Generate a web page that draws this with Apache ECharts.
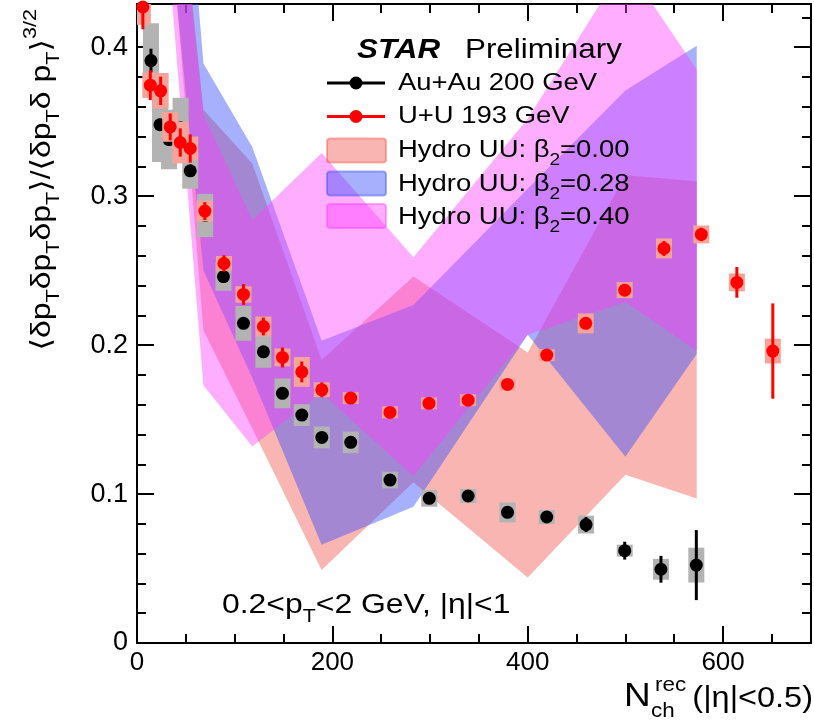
<!DOCTYPE html>
<html><head><meta charset="utf-8">
<script src="https://cdn.jsdelivr.net/npm/echarts@6/dist/echarts.min.js"></script>
<style>html,body{margin:0;padding:0;background:#fff}#c{width:814px;height:724px}</style>
</head><body><div id="c"></div>
<script>
// ---- data ----
const auX = [14.3, 23.5, 32.8, 44.6, 54.5, 69.8, 88.5, 109, 129.4, 148.9, 168.7, 189.2, 218.8, 259, 299.2, 339, 379.3, 419.5, 459.7, 499.3, 536.4, 572.6];
const auY = [0.391, 0.348, 0.338, 0.346, 0.317, 0.287, 0.246, 0.2146, 0.1955, 0.1676, 0.153, 0.138, 0.1347, 0.1094, 0.0971, 0.0987, 0.0877, 0.0846, 0.0795, 0.062, 0.0495, 0.0523];
const auStat = [0.008, 0.004, 0.004, 0.004, 0.004, 0.004, 0.003, 0.003, 0.003, 0.003, 0.003, 0.003, 0.003, 0.003, 0.003, 0.003, 0.003, 0.004, 0.005, 0.006, 0.009, 0.0235];
const auSys = [0.025, 0.025, 0.02, 0.02, 0.012, 0.0145, 0.0095, 0.0117, 0.0107, 0.010, 0.0073, 0.0073, 0.0073, 0.0056, 0.0056, 0.0047, 0.0067, 0.0047, 0.006, 0.004, 0.007, 0.0117];

const uuX = [6, 13.6, 24.2, 34, 44.3, 54.5, 69.5, 89, 109, 129.4, 148.9, 168.7, 189.2, 218.8, 259, 298.9, 339, 379.3, 419.5, 459.4, 499.3, 539.5, 577.7, 614.1, 650.9];
const uuY = [0.427, 0.3745, 0.3707, 0.3465, 0.336, 0.332, 0.290, 0.2548, 0.234, 0.2125, 0.1917, 0.182, 0.170, 0.1644, 0.1548, 0.1609, 0.163, 0.1736, 0.1933, 0.2146, 0.2369, 0.2649, 0.2743, 0.2421, 0.196];
const uuStat = [0.015, 0.01, 0.0095, 0.009, 0.0095, 0.0095, 0.006, 0.0055, 0.007, 0.006, 0.0067, 0.007, 0.005, 0.003, 0.003, 0.003, 0.003, 0.003, 0.003, 0.003, 0.004, 0.005, 0.0045, 0.0103, 0.032];
const uuSys = [0.012, 0.0084, 0.012, 0.01, 0.014, 0.008, 0.007, 0.005, 0.0055, 0.0067, 0.006, 0.01, 0.005, 0.004, 0.004, 0.004, 0.004, 0.004, 0.004, 0.0067, 0.0054, 0.0067, 0.006, 0.006, 0.0083];

const hydroX = [36, 68, 118, 189, 283, 400, 500, 573];
const b000Up = [0.56, 0.358, 0.322, 0.19, 0.246, 0.195, 0.314, 0.31];
const b000Lo = [0.47, 0.21, 0.144, 0.049, 0.108, 0.044, 0.113, 0.097];
const b028Up = [0.645, 0.389, 0.333, 0.203, 0.227, 0.305, 0.371, 0.401];
const b028Lo = [0.462, 0.25, 0.178, 0.066, 0.0915, 0.207, 0.125, 0.194];
const b040Up = [0.552, 0.355, 0.284, 0.329, 0.259, 0.352, 0.456, 0.385];
const b040Lo = [0.43, 0.173, 0.132, 0.168, 0.112, 0.207, 0.229, 0.196];

const xMajor = 200, xMinor = 50, xMax = 690;
const yMajor = 0.1, yMinor = 0.02, yMax = 0.429;

// ---- styles ----
const FONT = '"Liberation Sans", "DejaVu Sans", Arial, sans-serif';
const SX = 1.12;
const C000 = 'rgba(240,70,60,0.40)';
const C028 = 'rgba(60,80,250,0.45)';
const C040 = 'rgba(255,60,255,0.42)';

function band(up, lo, color) {
  return {
    type: 'custom', clip: true, silent: true, z: 1,
    data: hydroX.map((x, i) => [x, up[i], lo[i]]),
    encode: { x: 0, y: [1, 2] },
    renderItem: function (params, api) {
      if (params.dataIndex !== 0) return null;
      const pts = [];
      for (let i = 0; i < hydroX.length; i++) pts.push(api.coord([hydroX[i], up[i]]));
      for (let i = hydroX.length - 1; i >= 0; i--) pts.push(api.coord([hydroX[i], lo[i]]));
      return { type: 'polygon', shape: { points: pts }, style: { fill: color } };
    }
  };
}
function sysBoxes(xs, ys, es, color, z) {
  return {
    type: 'custom', clip: true, silent: true, z: z,
    data: xs.map((x, i) => [x, ys[i], es[i]]),
    encode: { x: 0, y: 1 },
    renderItem: function (params, api) {
      const x = api.value(0), y = api.value(1), e = api.value(2);
      const a = api.coord([x, y + e]), b = api.coord([x, y - e]);
      return { type: 'rect', shape: { x: a[0] - 8, y: a[1], width: 16, height: b[1] - a[1] }, style: { fill: color } };
    }
  };
}
function statBars(xs, ys, es, color, z) {
  return {
    type: 'custom', clip: true, silent: true, z: z,
    data: xs.map((x, i) => [x, ys[i], es[i]]),
    encode: { x: 0, y: 1 },
    renderItem: function (params, api) {
      const x = api.value(0), y = api.value(1), e = api.value(2);
      const a = api.coord([x, y + e]), b = api.coord([x, y - e]);
      return { type: 'line', shape: { x1: a[0], y1: a[1], x2: b[0], y2: b[1] }, style: { stroke: color, lineWidth: 3 } };
    }
  };
}
function points(xs, ys, color, z) {
  return {
    type: 'scatter', symbol: 'circle', symbolSize: 13, silent: true, z: z, clip: false,
    data: xs.map((x, i) => [x, ys[i]]),
    itemStyle: { color: color, opacity: 1 }
  };
}

const axisCommon = {
  type: 'value', splitLine: { show: false },
  axisLine: { show: true, onZero: false, lineStyle: { color: '#000', width: 2 } }
};
function xAx(pos, interval, len, labels) {
  return Object.assign({}, axisCommon, {
    position: pos, min: 0, max: xMax, interval: interval,
    axisLine: { show: interval === xMajor, onZero: false, lineStyle: { color: '#000', width: 2 } },
    axisTick: { show: true, inside: true, length: len, lineStyle: { color: '#000', width: 2 } },
    axisLabel: labels ? { show: true, showMaxLabel: false, color: '#000', fontSize: 26, fontFamily: FONT, margin: 7 } : { show: false }
  });
}
function yAx(pos, interval, len, labels) {
  return Object.assign({}, axisCommon, {
    position: pos, min: 0, max: yMax, interval: interval,
    axisLine: { show: interval === yMajor, onZero: false, lineStyle: { color: '#000', width: 2 } },
    axisTick: { show: true, inside: true, length: len, lineStyle: { color: '#000', width: 2 } },
    axisLabel: labels ? { show: true, showMaxLabel: false, color: '#000', fontSize: 27, fontFamily: FONT, margin: 9 } : { show: false }
  });
}

const txt = (x, y, text, size, extra) => Object.assign({
  type: 'text', x: x, y: y, scaleX: SX, silent: true, z: 100,
  style: Object.assign({ text: text, fill: '#000', font: size + 'px ' + FONT, align: 'left', verticalAlign: 'middle' }, extra || {})
});
const subRich = (size) => ({
  sub: { fontSize: Math.round(size * 0.68), fontFamily: FONT, lineHeight: Math.round(size * 0.68), verticalAlign: 'bottom', fill: '#000' },
  sup: { fontSize: Math.round(size * 0.68), fontFamily: FONT, lineHeight: Math.round(size * 0.68), verticalAlign: 'top', fill: '#000' },
  m: { fontSize: size, fontFamily: FONT, lineHeight: Math.round(size * 1.5), fill: '#000' }
});

const graphics = [
  // legend
  { type: 'text', x: 357, y: 50, scaleX: SX, z: 100, style: { text: 'STAR', fill: '#000', font: 'italic bold 28px ' + FONT, align: 'left', verticalAlign: 'middle' } },
  txt(465, 50, 'Preliminary', 28),
  { type: 'line', z: 100, shape: { x1: 327, y1: 83, x2: 385, y2: 83 }, style: { stroke: '#000', lineWidth: 3 } },
  { type: 'circle', z: 100, shape: { cx: 356, cy: 83, r: 6.5 }, style: { fill: '#000' } },
  txt(398, 83, 'Au+Au 200 GeV', 24.5),
  { type: 'line', z: 100, shape: { x1: 327, y1: 116.5, x2: 385, y2: 116.5 }, style: { stroke: '#f00', lineWidth: 3 } },
  { type: 'circle', z: 100, shape: { cx: 356, cy: 116.5, r: 6.5 }, style: { fill: '#f00' } },
  txt(398, 116, 'U+U 193 GeV', 24.5),
  { type: 'rect', z: 99, shape: { x: 327, y: 138.5, width: 59, height: 24, r: 3 }, style: { fill: C000, stroke: C000, lineWidth: 2 } },
  { type: 'rect', z: 99, shape: { x: 327, y: 171.5, width: 59, height: 24, r: 3 }, style: { fill: C028, stroke: C028, lineWidth: 2 } },
  { type: 'rect', z: 99, shape: { x: 327, y: 204, width: 59, height: 24, r: 3 }, style: { fill: C040, stroke: C040, lineWidth: 2 } },
  txt(398, 150, '{m|Hydro UU: β}{sub|2}{m|=0.00}', 24.5, { rich: subRich(24.5) }),
  txt(398, 184, '{m|Hydro UU: β}{sub|2}{m|=0.28}', 24.5, { rich: subRich(24.5) }),
  txt(398, 217, '{m|Hydro UU: β}{sub|2}{m|=0.40}', 24.5, { rich: subRich(24.5) }),
  // kinematic cut label
  txt(222, 605, '{m|0.2<p}{sub|T}{m|<2 GeV, |η|<1}', 28.5, { rich: subRich(28.5) }),
  // y-axis title
  { type: 'text', x: 42, y: 9, rotation: Math.PI / 2, scaleX: 1.14, z: 100,
    style: { text: '{m|⟨δp}{sub|T}{m|δp}{sub|T}{m|δp}{sub|T}{m|⟩/⟨δp}{sub|T}{m|δ p}{sub|T}{m|⟩}{sup|3/2}', fill: '#000', font: '28px ' + FONT,
      align: 'right', verticalAlign: 'middle', rich: subRich(28) } },
  // x-axis title
  { type: 'text', x: 624, y: 697, scaleX: SX, z: 100, style: { text: 'N', fill: '#000', font: '33px ' + FONT, align: 'left', verticalAlign: 'middle' } },
  { type: 'text', x: 655, y: 685, scaleX: SX, z: 100, style: { text: 'rec', fill: '#000', font: '20px ' + FONT, align: 'left', verticalAlign: 'middle' } },
  { type: 'text', x: 651, y: 711, scaleX: SX, z: 100, style: { text: 'ch', fill: '#000', font: '20px ' + FONT, align: 'left', verticalAlign: 'middle' } },
  { type: 'text', x: 813, y: 699, scaleX: SX, z: 100, style: { text: '(|η|<0.5)', fill: '#000', font: '29px ' + FONT, align: 'right', verticalAlign: 'middle' } }
];

const chart = echarts.init(document.getElementById('c'), null, { renderer: 'canvas' });
chart.setOption({
  animation: false,
  backgroundColor: '#fff',
  grid: { left: 137, right: 3, top: 4, bottom: 81, containLabel: false },
  xAxis: [xAx('bottom', xMajor, 17, true), xAx('bottom', xMinor, 9, false), xAx('top', xMajor, 17, false), xAx('top', xMinor, 9, false)],
  yAxis: [yAx('left', yMajor, 17, true), yAx('left', yMinor, 9, false), yAx('right', yMajor, 17, false), yAx('right', yMinor, 9, false)],
  series: [
    band(b000Up, b000Lo, C000),
    band(b028Up, b028Lo, C028),
    band(b040Up, b040Lo, C040),
    sysBoxes(auX, auY, auSys, '#b3b3b3', 10),
    statBars(auX, auY, auStat, '#000', 11),
    points(auX, auY, '#000', 12),
    sysBoxes(uuX, uuY, uuSys, '#f6a39a', 13),
    statBars(uuX, uuY, uuStat, '#f00', 14),
    points(uuX, uuY, '#f00', 15)
  ],
  graphic: graphics
});
</script>
</body></html>
